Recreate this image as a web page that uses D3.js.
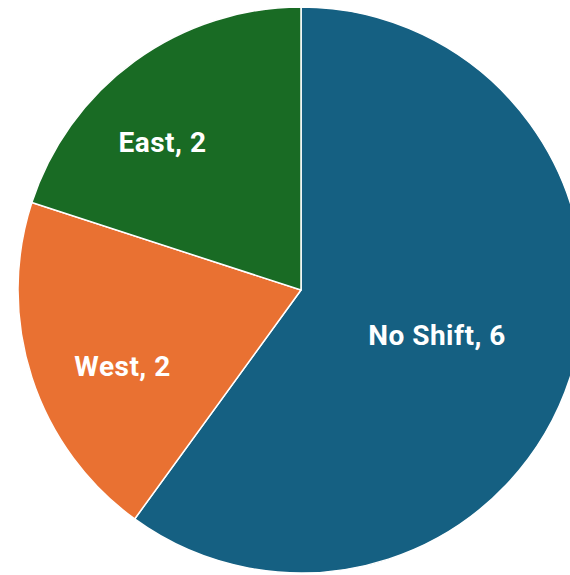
<!DOCTYPE html>
<html>
<head>
<meta charset="utf-8">
<script src="https://cdn.jsdelivr.net/npm/d3@7"></script>
<style>
  html, body { margin: 0; padding: 0; background: #ffffff; overflow: hidden; }
  svg { display: block; }
</style>
</head>
<body>
<svg id="chart" width="570" height="575"></svg>
<script>
// Shift direction counts
const categories = ["No Shift", "West", "East"];
const values = [6, 2, 2];

// Slice fills
const colors = ["#156082", "#E97132", "#196B24"];

// Label anchor per slice: radius as share of the pie radius, and position along the slice's sweep
const labelPlacement = [
  { radius: 0.506, along: 0.501 },
  { radius: 0.686, along: 0.428 },
  { radius: 0.715, along: 0.40 }
];

const width = 570, height = 575;
const cx = 301, cy = 290, radius = 283;

const svg = d3.select("#chart");
const g = svg.append("g").attr("transform", `translate(${cx},${cy})`);

const pie = d3.pie().sort(null).value(d => d.value);
const data = categories.map((c, i) => ({ name: c, value: values[i], color: colors[i] }));
const arcs = pie(data);

const arc = d3.arc().innerRadius(0).outerRadius(radius);

g.selectAll("path.slice")
  .data(arcs)
  .join("path")
  .attr("class", "slice")
  .attr("d", arc)
  .attr("fill", d => d.data.color)
  .attr("stroke", "#ffffff")
  .attr("stroke-width", 1.5)
  .attr("stroke-linejoin", "round");

g.selectAll("text.label")
  .data(arcs)
  .join("text")
  .attr("class", "label")
  .attr("transform", (d, i) => {
    const p = labelPlacement[i];
    const a = d.startAngle + (d.endAngle - d.startAngle) * p.along;
    const r = radius * p.radius;
    const pos = d3.arc().innerRadius(r).outerRadius(r).startAngle(a).endAngle(a).centroid();
    return `translate(${pos[0]},${pos[1]})`;
  })
  .attr("text-anchor", "middle")
  .attr("dy", "0.35em")
  .attr("fill", "#ffffff")
  .style("font-family", "Roboto, 'Open Sans', sans-serif")
  .style("font-weight", "700")
  .style("font-size", "28px")
  .style("letter-spacing", "0.5px")
  .text(d => `${d.data.name}, ${d.data.value}`);
</script>
</body>
</html>
